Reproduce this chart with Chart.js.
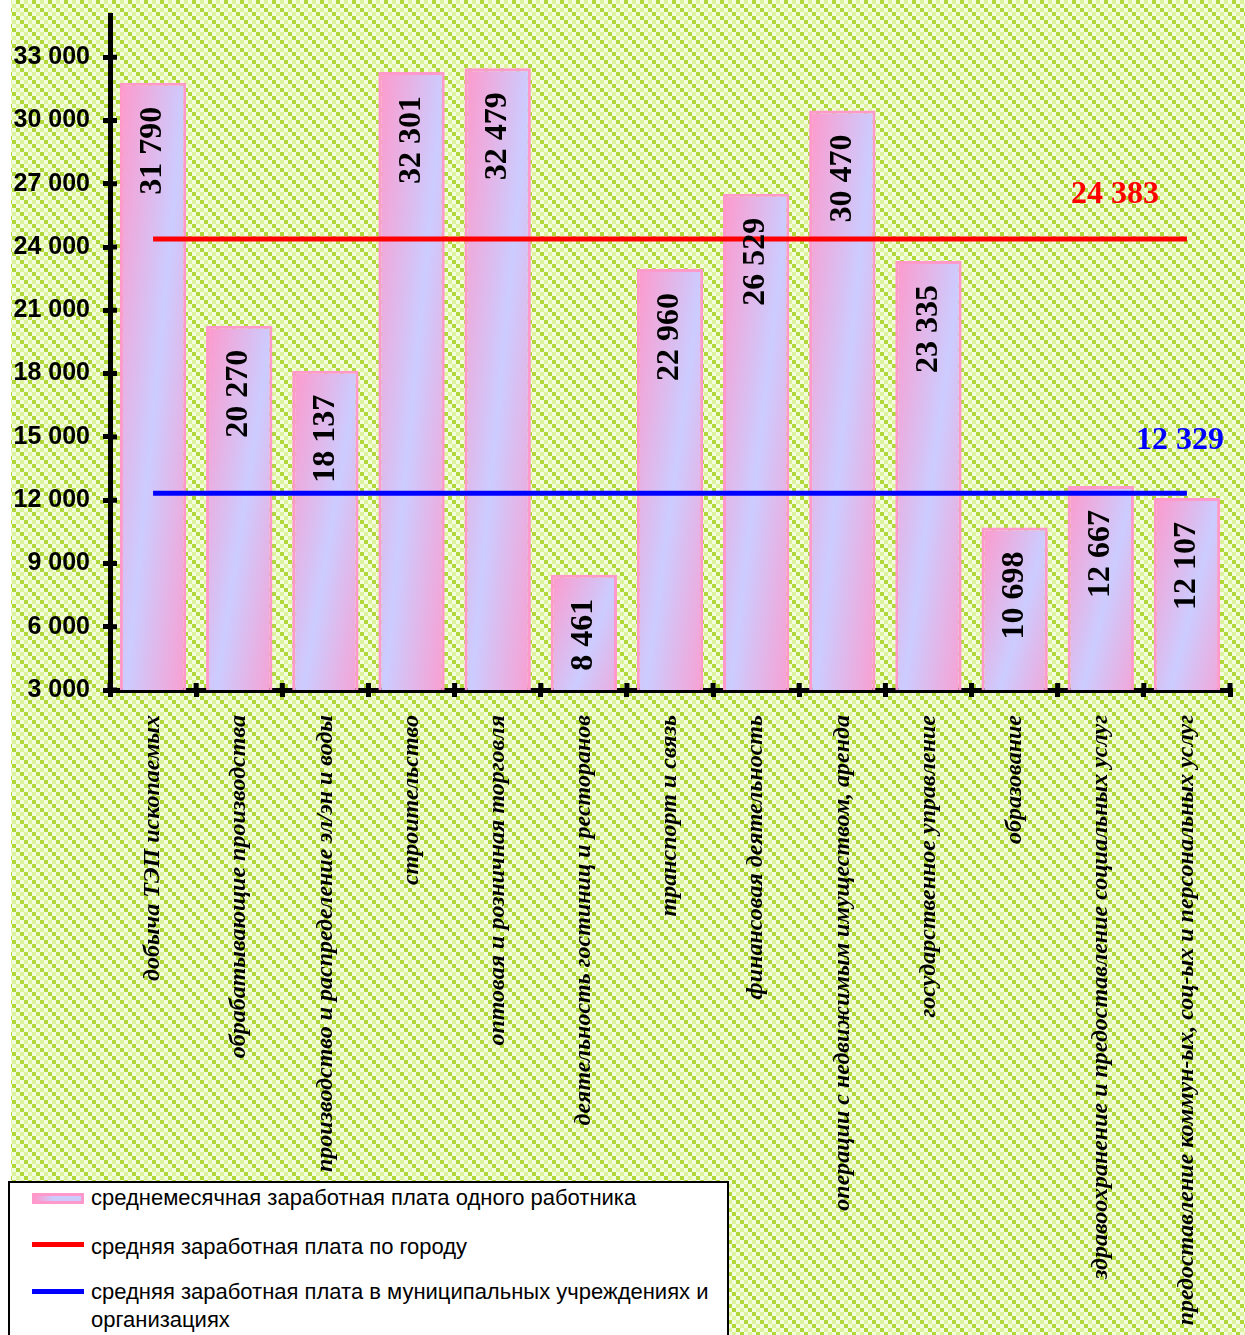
<!DOCTYPE html>
<html>
<head>
<meta charset="utf-8">
<script src="https://cdn.jsdelivr.net/npm/chart.js@4/dist/chart.umd.min.js"></script>
<style>
    body { margin: 0; background: #fff; }
    #wrap { position: relative; width: 1245px; height: 1335px; overflow: hidden; }
    #legend {
        position: absolute; left: 8px; top: 1181px; width: 717px; height: 160px;
        border: 2px solid #000; background: #fff;
        font-family: "Liberation Sans", Arial, sans-serif; font-size: 22px; color: #000;
    }
    .item { position: absolute; left: 0; width: 717px; }
    .swatch { position: absolute; left: 22px; width: 52px; }
    .text { position: absolute; left: 81px; width: 634px; line-height: 28px; }
</style>
</head>
<body>
<div id="wrap">
    <canvas id="salaryChart" width="1245" height="1335"></canvas>
    <div id="legend"></div>
</div>
<script>
// Categories (industries)
const categories = [
    'добыча ТЭП ископаемых',
    'обрабатывающие производства',
    'производство и распределение эл/эн и воды',
    'строительство',
    'оптовая и розничная торговля',
    'деятельность гостиниц и ресторанов',
    'транспорт и связь',
    'финансовая деятельность',
    'операции с недвижимым имуществом, аренда',
    'государственное управление',
    'образование',
    'здравоохранение и предоставление социальных услуг',
    'предоставление коммун-ых, соц-ых и персональных услуг'
];

// Average monthly salary per worker
const salaries = [31790, 20270, 18137, 32301, 32479, 8461, 22960, 26529, 30470, 23335, 10698, 12667, 12107];

// Average salary in the city / in municipal institutions
const cityAverage = [24383, 24383, 24383, 24383, 24383, 24383, 24383, 24383, 24383, 24383, 24383, 24383, 24383];
const municipalAverage = [12329, 12329, 12329, 12329, 12329, 12329, 12329, 12329, 12329, 12329, 12329, 12329, 12329];

const yTicks = [3000, 6000, 9000, 12000, 15000, 18000, 21000, 24000, 27000, 30000, 33000];

const seriesNames = [
    'среднемесячная заработная плата одного работника',
    'средняя заработная плата по городу',
    'средняя заработная плата в муниципальных учреждениях и организациях'
];

const PINK = '#ff99cc';
const LAVENDER = '#ccccff';
const SERIF = '"Liberation Serif", "Times New Roman", serif';
const SANS = '"Liberation Sans", Arial, sans-serif';

function fmt(v) {
    return String(v).replace(/\B(?=(\d{3})+(?!\d))/g, ' ');
}

// Hatched green background
function makePattern(ctx) {
    const tile = document.createElement('canvas');
    tile.width = 16;
    tile.height = 16;
    const t = tile.getContext('2d');
    for (let i = 0; i < 4; i++) {
        for (let j = 0; j < 4; j++) {
            const d = ((i - j) % 4 + 4) % 4;
            t.fillStyle = d === 0 ? '#b0d838' : (d === 2 ? '#dcf39c' : '#f4fce0');
            t.fillRect(i * 4, j * 4, 4, 4);
        }
    }
    return ctx.createPattern(tile, 'repeat');
}

const backgroundPlugin = {
    id: 'hatchBackground',
    beforeDraw(chart) {
        const ctx = chart.ctx;
        ctx.save();
        ctx.fillStyle = makePattern(ctx);
        ctx.fillRect(11, 0, chart.width - 11, chart.height);
        ctx.restore();
    }
};

// Diagonal pink-lavender-pink gradient for each bar
const barGradientPlugin = {
    id: 'barGradient',
    beforeDatasetsDraw(chart) {
        const ctx = chart.ctx;
        const meta = chart.getDatasetMeta(0);
        meta.data.forEach(el => {
            const w = el.width;
            const h = el.base - el.y;
            if (!(w > 0 && h > 0)) return;
            const left = el.x - w / 2;
            const k = 2 / (1 / (w * w) + 1 / (h * h));
            const g = ctx.createLinearGradient(left, el.y, left + k / w, el.y + k / h);
            g.addColorStop(0, PINK);
            g.addColorStop(0.5, LAVENDER);
            g.addColorStop(1, PINK);
            el.options = Object.assign({}, el.options, { backgroundColor: g });
        });
    }
};

// Value labels inside bars and next to the average lines
const labelPlugin = {
    id: 'valueLabels',
    afterDatasetsDraw(chart) {
        const ctx = chart.ctx;
        ctx.save();
        ctx.font = 'bold 32px ' + SERIF;
        ctx.fillStyle = '#000';
        ctx.textBaseline = 'middle';
        ctx.textAlign = 'right';
        chart.getDatasetMeta(0).data.forEach((el, i) => {
            ctx.save();
            ctx.translate(el.x, el.y + 24);
            ctx.rotate(-Math.PI / 2);
            ctx.fillText(fmt(salaries[i]), 0, 0);
            ctx.restore();
        });
        ctx.textAlign = 'center';
        [1, 2].forEach(di => {
            const ds = chart.data.datasets[di];
            const pts = chart.getDatasetMeta(di).data;
            const last = pts[pts.length - 1];
            ctx.fillStyle = ds.borderColor;
            ctx.fillText(fmt(ds.data[ds.data.length - 1]), last.x + ds.labelOffset[0], last.y + ds.labelOffset[1]);
        });
        ctx.restore();
    }
};

// Tick marks crossing the axes (inner half)
const crossTicksPlugin = {
    id: 'crossTicks',
    afterDraw(chart) {
        const ctx = chart.ctx;
        const xs = chart.scales.x;
        const ys = chart.scales.y;
        ctx.save();
        ctx.strokeStyle = '#000';
        ctx.lineWidth = 5;
        ctx.beginPath();
        yTicks.forEach(v => {
            const y = ys.getPixelForValue(v);
            ctx.moveTo(ys.right, y);
            ctx.lineTo(ys.right + 7, y);
        });
        for (let i = 0; i <= categories.length; i++) {
            const x = xs.getPixelForValue(i - 0.5);
            ctx.moveTo(x, xs.top);
            ctx.lineTo(x, xs.top - 7);
        }
        ctx.stroke();
        ctx.restore();
    }
};

function noPadding(scale) {
    scale.paddingTop = 0;
    scale.paddingBottom = 0;
    scale.paddingLeft = 0;
    scale.paddingRight = 0;
}

const chart = new Chart(document.getElementById('salaryChart'), {
    type: 'bar',
    data: {
        labels: categories,
        datasets: [
            {
                label: seriesNames[0],
                data: salaries,
                backgroundColor: LAVENDER,
                borderColor: PINK,
                borderWidth: 3,
                borderSkipped: false,
                categoryPercentage: 1,
                barPercentage: 0.77,
                order: 2
            },
            {
                type: 'line',
                label: seriesNames[1],
                data: cityAverage,
                borderColor: '#ff0000',
                borderWidth: 5,
                pointRadius: 0,
                labelOffset: [-72, -44],
                order: 1
            },
            {
                type: 'line',
                label: seriesNames[2],
                data: municipalAverage,
                borderColor: '#0000ff',
                borderWidth: 5,
                pointRadius: 0,
                labelOffset: [-7, -52],
                order: 0
            }
        ]
    },
    options: {
        responsive: false,
        animation: false,
        layout: { padding: { left: 0, top: 15, right: 15, bottom: 0 } },
        plugins: {
            legend: { display: false },
            tooltip: { enabled: false }
        },
        scales: {
            x: {
                offset: true,
                grid: {
                    offset: true,
                    drawOnChartArea: false,
                    drawTicks: true,
                    tickLength: 7,
                    lineWidth: 5,
                    color: '#000'
                },
                border: { display: true, width: 5, color: '#000' },
                ticks: {
                    autoSkip: false,
                    maxRotation: 90,
                    minRotation: 90,
                    padding: 18,
                    color: '#000',
                    font: { family: SERIF, size: 24, style: 'italic', weight: 'bold' }
                },
                afterFit(scale) {
                    scale.height = 645;
                    noPadding(scale);
                }
            },
            y: {
                min: 3000,
                max: 35000,
                grid: {
                    drawOnChartArea: false,
                    drawTicks: true,
                    tickLength: 7,
                    lineWidth: 5,
                    color: '#000'
                },
                border: { display: true, width: 5, color: '#000' },
                afterBuildTicks(scale) {
                    scale.ticks = yTicks.map(v => ({ value: v }));
                },
                ticks: {
                    padding: 13,
                    color: '#000',
                    font: { family: SANS, size: 25, weight: 'bold' },
                    callback: v => fmt(v)
                },
                afterFit(scale) {
                    scale.width = 110;
                    noPadding(scale);
                }
            }
        }
    },
    plugins: [backgroundPlugin, barGradientPlugin, labelPlugin, crossTicksPlugin]
});

// Legend box built from the datasets
function buildLegend() {
    const legend = document.getElementById('legend');
    const rows = [
        { top: 1, swatchTop: 9, swatchH: 11 },
        { top: 50, swatchTop: 9, swatchH: 5 },
        { top: 95, swatchTop: 11, swatchH: 5 }
    ];
    chart.data.datasets.forEach((ds, i) => {
        const item = document.createElement('div');
        item.className = 'item';
        item.style.top = rows[i].top + 'px';
        const sw = document.createElement('div');
        sw.className = 'swatch';
        sw.style.top = rows[i].swatchTop + 'px';
        sw.style.height = rows[i].swatchH + 'px';
        if (i === 0) {
            sw.style.boxSizing = 'border-box';
            sw.style.border = '3px solid ' + PINK;
            sw.style.background = 'linear-gradient(to right, ' + PINK + ', ' + LAVENDER + ' 40%, ' + LAVENDER + ')';
        } else {
            sw.style.background = ds.borderColor;
        }
        const txt = document.createElement('div');
        txt.className = 'text';
        txt.textContent = ds.label;
        item.appendChild(sw);
        item.appendChild(txt);
        legend.appendChild(item);
    });
}

buildLegend();
</script>
</body>
</html>
